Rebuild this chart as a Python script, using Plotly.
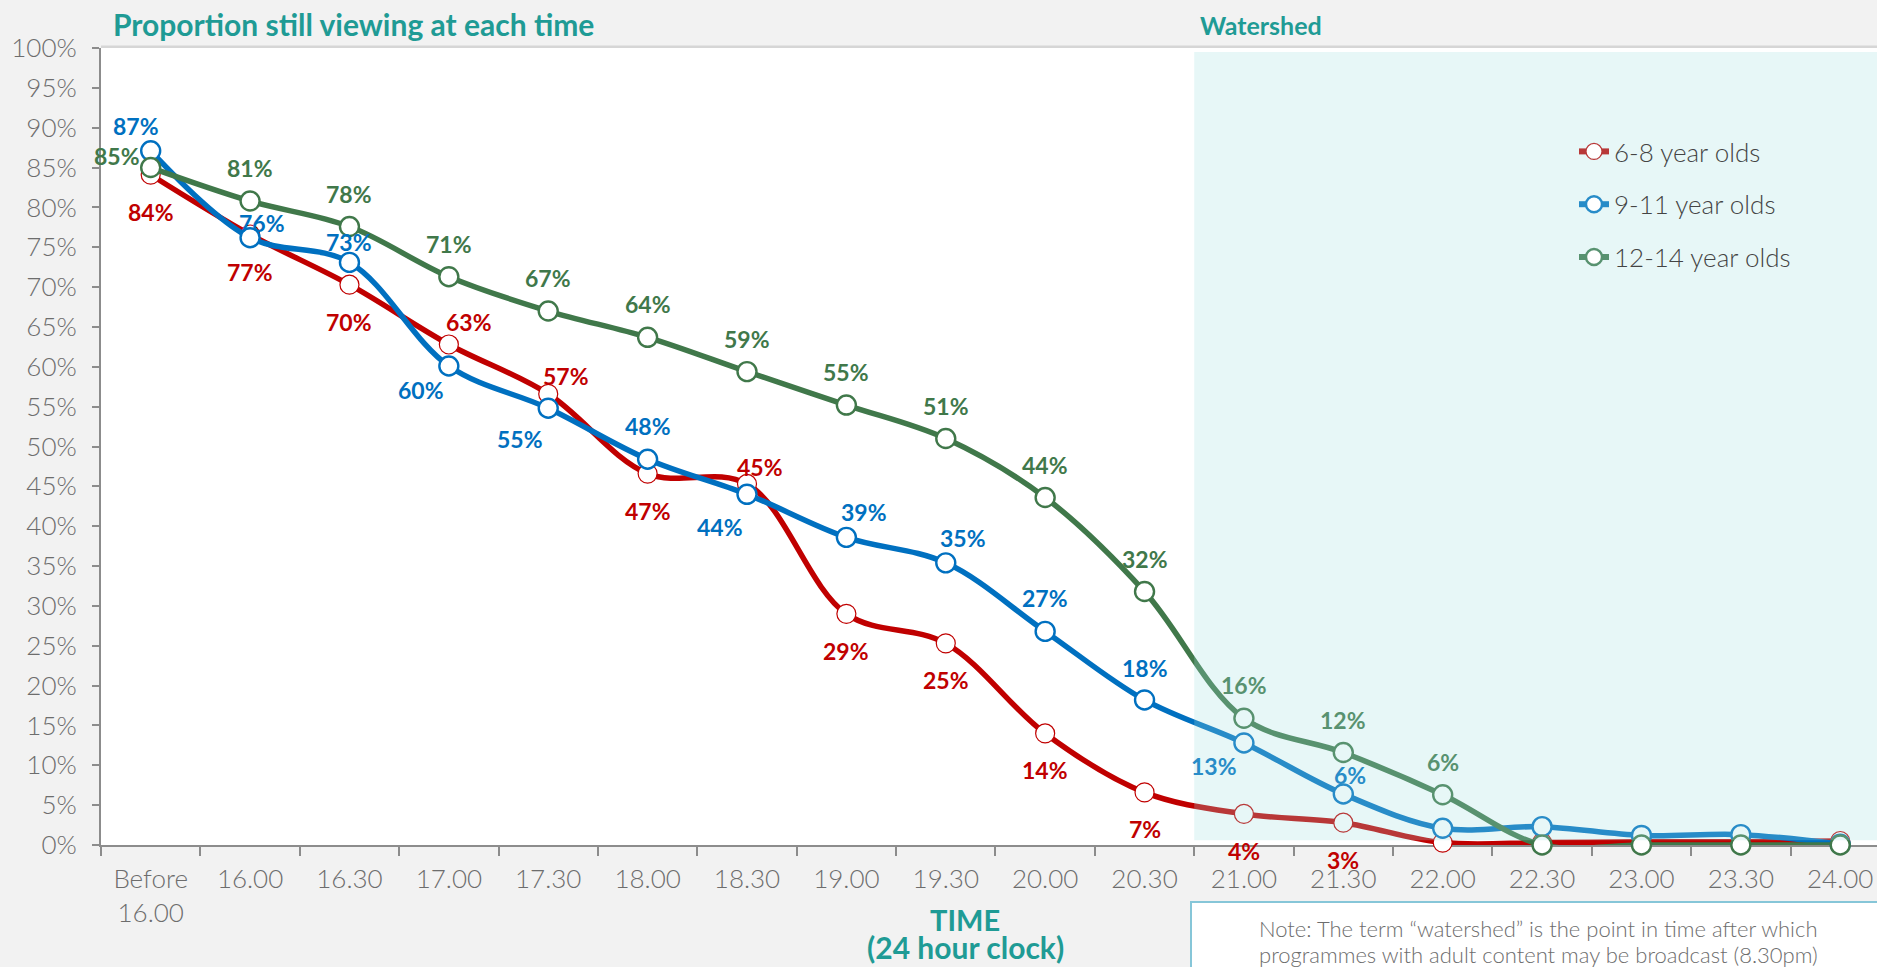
import plotly.graph_objects as go

# Viewing times (x categories) and share of each age group still watching (%)
times = ["Before<br>16.00", "16.00", "16.30", "17.00", "17.30", "18.00", "18.30",
         "19.00", "19.30", "20.00", "20.30", "21.00", "21.30", "22.00", "22.30",
         "23.00", "23.30", "24.00"]
age_6_8 = [84.1, 76.6, 70.3, 62.8, 56.6, 46.6, 45.3, 29.0, 25.3, 14.0, 6.6, 3.9, 2.8,
           0.3, 0.3, 0.4, 0.4, 0.5]
age_9_11 = [87.1, 76.2, 73.1, 60.1, 54.8, 48.4, 44.0, 38.6, 35.4, 26.8, 18.2, 12.8, 6.4,
            2.1, 2.3, 1.2, 1.3, 0.1]
age_12_14 = [85.0, 80.8, 77.6, 71.3, 67.0, 63.7, 59.4, 55.2, 51.0, 43.6, 31.8, 15.9, 11.6,
             6.3, 0.0, 0.0, 0.0, 0.0]
series_names = ["6-8 year olds", "9-11 year olds", "12-14 year olds"]
y_ticks = list(range(0, 101, 5))

# ---- styling -------------------------------------------------------------
FONT = "Lato"
TEAL = "#1f9b95"
GREY_TXT = "#6d6d6d"
colors = ["#c00000", "#0070c0", "#40784a"]
marker_edge = [1.2, 2.4, 2.4]
WATERSHED_START = 10.5          # boundary between 20.30 and 21.00
X_MAX = 17.37
PX_PER_PCT = 7.97               # plot height / 100
OVER_RGB = (160, 225, 225)
OVER_A = 0.25

# label offsets (dx, dy) in pixels, dy positive = downwards
B, A = (0, 37), (0, -33)
label_offsets = [
    [B, B, B, (20, -22), (18, -18), B, (13, -17), B, B, B, B, B, B],
    [(-15, -25), (12, -15), (0, -20), (-28, 24), (-28, 31), A, (-27, 33),
     (18, -25), (17, -25), A, (0, -32), (-30, 23), (7, -19)],
    [(-34, -12)] + [A] * 13,
]


def hex_rgb(h):
    h = h.lstrip("#")
    return tuple(int(h[i:i + 2], 16) for i in (0, 2, 4))


def tinted(h):
    r = hex_rgb(h)
    mix = [round(OVER_A * o + (1 - OVER_A) * c) for o, c in zip(OVER_RGB, r)]
    return "rgb({},{},{})".format(*mix)


series = [age_6_8, age_9_11, age_12_14]

fig = go.Figure()

for k, (name, vals, col, edge) in enumerate(zip(series_names, series, colors, marker_edge)):
    fig.add_trace(go.Scatter(
        x=times, y=vals, name=name, mode="lines+markers", showlegend=False,
        legendgroup=f"g{k}",
        line=dict(color=col, width=5.5, shape="spline", smoothing=1.0),
        marker=dict(size=19, color="white", line=dict(color=col, width=edge)),
        cliponaxis=False, hoverinfo="skip",
    ))

# legend entries sit inside the tinted watershed panel
for k, (name, col, edge) in enumerate(zip(series_names, colors, marker_edge)):
    fig.add_trace(go.Scatter(
        x=[None], y=[None], name=name, mode="lines+markers", legendgroup=f"g{k}",
        line=dict(color=tinted(col), width=6),
        marker=dict(size=16, color="white", line=dict(color=tinted(col), width=edge)),
    ))

# value labels, placed by category index
annotations = []
for vals, col, offs in zip(series, colors, label_offsets):
    for i, (dx, dy) in enumerate(offs):
        v = vals[i]
        label_level = v - dy / PX_PER_PCT
        inside = i > WATERSHED_START and label_level > 0.6
        annotations.append(dict(
            x=i, y=v, xref="x", yref="y", text=f"{v:.0f}%",
            showarrow=False, xshift=dx, yshift=-dy,
            font=dict(family=FONT, size=23, color=tinted(col) if inside else col,
                      weight="bold"),
        ))

# titles and notes (paper coordinates)
plot_h = 797.0
plot_w = 1776.0


def px_x(px):
    return (px - 101) / plot_w


def px_y(py):
    return (845 - py) / plot_h


annotations += [
    dict(x=px_x(111), y=px_y(24), xref="paper", yref="paper", xanchor="left",
         yanchor="middle", text="Proportion still viewing at each time", showarrow=False,
         font=dict(family=FONT, size=30, color=TEAL, weight="bold")),
    dict(x=px_x(1198), y=px_y(25), xref="paper", yref="paper", xanchor="left",
         yanchor="middle", text="Watershed", showarrow=False,
         font=dict(family=FONT, size=25, color=TEAL, weight="bold")),
    dict(x=px_x(965), y=px_y(919), xref="paper", yref="paper", xanchor="center",
         yanchor="middle", text="TIME", showarrow=False,
         font=dict(family=FONT, size=29, color=TEAL, weight="bold")),
    dict(x=px_x(965), y=px_y(947), xref="paper", yref="paper", xanchor="center",
         yanchor="middle", text="(24 hour clock)", showarrow=False,
         font=dict(family=FONT, size=30, color=TEAL, weight="bold")),
    dict(x=px_x(1538), y=px_y(928), xref="paper", yref="paper", xanchor="center",
         yanchor="middle", text="Note: The term \u201cwatershed\u201d is the point in time after which",
         showarrow=False, font=dict(family=FONT, size=22, color=GREY_TXT, weight=300)),
    dict(x=px_x(1538), y=px_y(955), xref="paper", yref="paper", xanchor="center",
         yanchor="middle", text="programmes with adult content may be broadcast (8.30pm)",
         showarrow=False, font=dict(family=FONT, size=22, color=GREY_TXT, weight=300)),
]

shapes = [
    # header rule
    dict(type="line", xref="paper", yref="paper", x0=0, x1=1,
         y0=1 + 1.2 / plot_h, y1=1 + 1.2 / plot_h,
         line=dict(color="#d6d6d6", width=2.5), layer="above"),
    # watershed panel, laid over the lines
    dict(type="rect", xref="x", yref="y", x0=WATERSHED_START, x1=X_MAX, y0=0.6, y1=99.5,
         fillcolor="rgba({},{},{},{})".format(*OVER_RGB, OVER_A), line=dict(width=0),
         layer="above"),
    # note box
    dict(type="rect", xref="paper", yref="paper", x0=px_x(1191), x1=px_x(1890),
         y0=px_y(990), y1=px_y(902), fillcolor="white",
         line=dict(color="#86c6d8", width=2), layer="below"),
]

fig.update_layout(
    width=1877, height=967,
    margin=dict(l=101, r=0, t=48, b=122),
    paper_bgcolor="#f2f2f2", plot_bgcolor="white",
    font=dict(family=FONT, color=GREY_TXT),
    annotations=annotations, shapes=shapes,
    legend=dict(x=px_x(1574), y=px_y(128), xanchor="left", yanchor="top",
                bgcolor="rgba(0,0,0,0)", tracegroupgap=16, traceorder="grouped",
                font=dict(family=FONT, size=26, color="#444444", weight=300)),
    xaxis=dict(
        type="category", categoryorder="array", categoryarray=times,
        range=[-0.5, X_MAX], showgrid=False, zeroline=False,
        showline=True, linecolor="#8c8c8c", linewidth=2,
        ticks="outside", tickson="boundaries", ticklen=9, tickcolor="#8c8c8c",
        tickwidth=1.5, tickfont=dict(family=FONT, size=26, color=GREY_TXT, weight=300),
        ticklabelstandoff=10, layer="below traces",
    ),
    yaxis=dict(
        range=[0, 100], tickvals=y_ticks, ticktext=[f"{t}%" for t in y_ticks],
        showgrid=False, zeroline=False, showline=True, linecolor="#8c8c8c", linewidth=2,
        ticks="outside", ticklen=7, tickcolor="#8c8c8c", tickwidth=1.5,
        tickfont=dict(family=FONT, size=26, color=GREY_TXT, weight=300),
        ticklabelstandoff=10, layer="below traces",
    ),
)

fig.write_html("out.html")
